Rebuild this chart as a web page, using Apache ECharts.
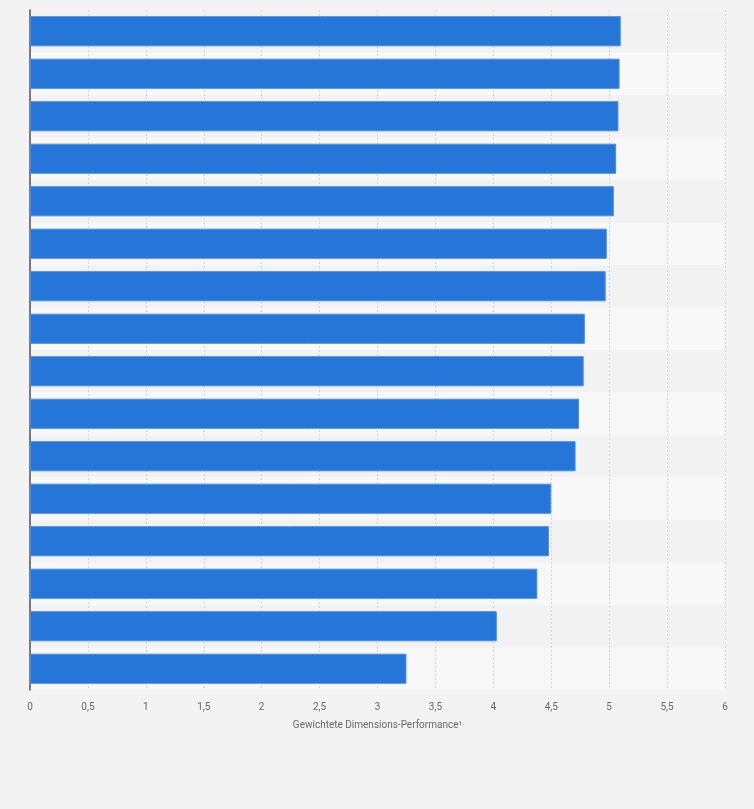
<!DOCTYPE html>
<html>
<head>
<meta charset="utf-8">
<script src="https://cdn.jsdelivr.net/npm/echarts@6/dist/echarts.min.js"></script>
<style>
  html, body { margin: 0; padding: 0; background: #f3f3f3; }
  #chart { width: 754px; height: 809px; }
</style>
</head>
<body>
<div id="chart"></div>
<script>
// Kategorien (im Original ohne sichtbare Beschriftung)
var categories = ['Rang 1', 'Rang 2', 'Rang 3', 'Rang 4', 'Rang 5', 'Rang 6', 'Rang 7', 'Rang 8',
                  'Rang 9', 'Rang 10', 'Rang 11', 'Rang 12', 'Rang 13', 'Rang 14', 'Rang 15', 'Rang 16'];
// Gewichtete Dimensions-Performance
var performance = [5.10, 5.09, 5.08, 5.06, 5.04, 4.98, 4.97, 4.79,
                   4.78, 4.74, 4.71, 4.50, 4.48, 4.38, 4.03, 3.25];
var axisTitle = 'Gewichtete Dimensions-Performance¹';

var myChart = echarts.init(document.getElementById('chart'));

var option = {
  backgroundColor: '#f3f3f3',
  animation: false,
  grid: { left: 30, right: 29, top: 10, bottom: 119 },
  xAxis: {
    type: 'value',
    min: 0,
    max: 6,
    interval: 0.5,
    name: axisTitle,
    nameLocation: 'middle',
    nameGap: 30,
    nameTextStyle: { color: '#666', fontSize: 10, fontFamily: 'Roboto' },
    axisLine: { show: false },
    axisTick: { show: false },
    axisLabel: {
      color: '#666', fontSize: 10, fontFamily: 'Roboto', margin: 12,
      formatter: function (v) { return String(v).replace('.', ','); }
    },
    splitLine: { show: true, lineStyle: { color: '#d4d4d4', type: [2, 2], width: 1 } }
  },
  yAxis: {
    type: 'category',
    data: categories,
    inverse: true,
    axisLine: { show: true, lineStyle: { color: '#555', width: 1.5 } },
    axisTick: { show: false },
    axisLabel: { show: false },
    splitArea: { show: true, areaStyle: { color: ['#f2f2f2', '#f8f8f8'] } }
  },
  series: [{
    type: 'bar',
    data: performance,
    barWidth: '71%',
    itemStyle: { color: '#2675d9', borderColor: '#4a8de3', borderWidth: 1 }
  }]
};

myChart.setOption(option);
</script>
</body>
</html>
